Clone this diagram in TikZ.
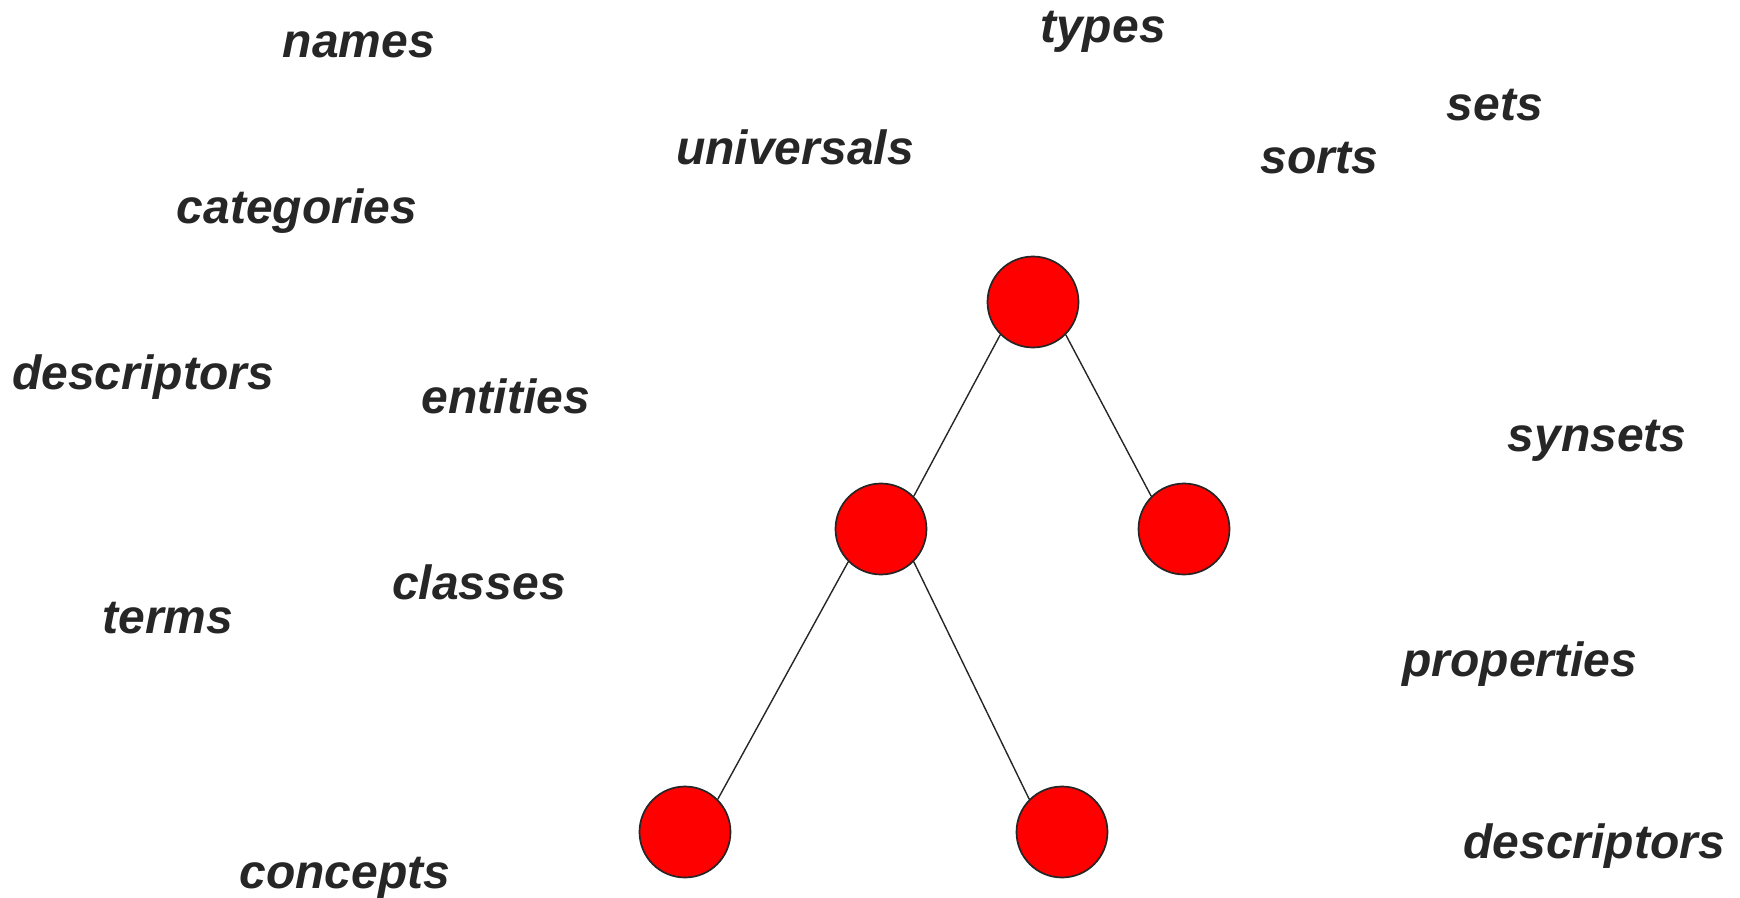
\documentclass[tikz,border=0pt]{standalone}
\usepackage{fontspec}
\setmainfont{Liberation Sans}
\begin{document}
\definecolor{ink}{RGB}{38,38,38}
\definecolor{nodered}{RGB}{255,0,0}
\begin{tikzpicture}[x=1pt,y=-1pt,
  word/.style={anchor=base,inner sep=0pt,text=ink,
    font=\fontsize{48}{58}\selectfont\bfseries\itshape},
  dot/.style={circle,draw=ink,line width=1.7pt,fill=nodered,
    minimum size=91pt,inner sep=0pt},
  link/.style={draw=ink,line width=1.4pt}]
  \useasboundingbox (0,0) rectangle (1740,897);

  % the tree
  \node[dot] (root) at (1033,302) {};
  \node[dot] (left) at (881,529) {};
  \node[dot] (right) at (1184,529) {};
  \node[dot] (leftleft) at (685,832) {};
  \node[dot] (leftright) at (1062,832) {};
  \draw[link] (root.south west) -- (left.north east);
  \draw[link] (root.south east) -- (right.north west);
  \draw[link] (left.south west) -- (leftleft.north east);
  \draw[link] (left.south east) -- (leftright.north west);

  % the words around it
  \node[word] (w1) at (359,57) {names};
  \node[word] (w2) at (1103,42) {types};
  \node[word] (w3) at (1495,120) {sets};
  \node[word] (w4) at (795,164) {universals};
  \node[word] (w5) at (1319,173) {sorts};
  \node[word] (w6) at (297,223) {categories};
  \node[word] (w7) at (143,389) {descriptors};
  \node[word] (w8) at (506,413) {entities};
  \node[word] (w9) at (1597,451) {synsets};
  \node[word] (w10) at (479,599) {classes};
  \node[word] (w11) at (168,633) {terms};
  \node[word] (w12) at (1520,676) {properties};
  \node[word] (w13) at (1594,858) {descriptors};
  \node[word] (w14) at (345,888) {concepts};
\end{tikzpicture}
\end{document}
